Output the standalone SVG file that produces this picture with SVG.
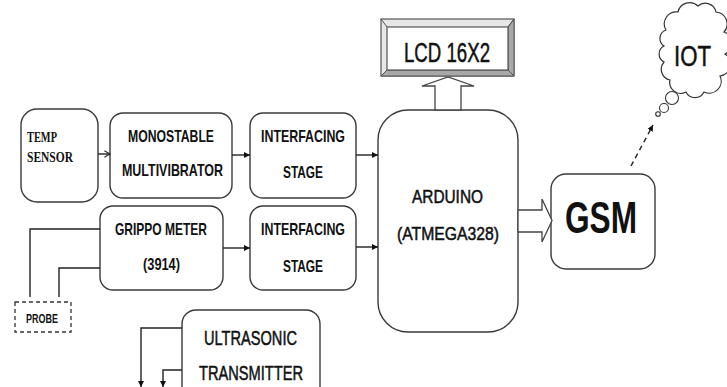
<svg xmlns="http://www.w3.org/2000/svg" width="727" height="387" viewBox="0 0 727 387">
<style>
.box{fill:#fff;stroke:#3a3a3a;stroke-width:1.4}
.t{font-family:"Liberation Sans",Arial,sans-serif;fill:#111}
.b{font-weight:bold}
.m{stroke:#111;stroke-width:0.5}
.ser{font-family:"Liberation Serif","Times New Roman",serif;font-weight:bold;fill:#111}
.ln{fill:none;stroke:#222;stroke-width:1.4}
.hol{fill:#fff;stroke:#444;stroke-width:1.3}
</style>
<defs>
<marker id="ah" viewBox="0 0 10 10" refX="10" refY="5" markerWidth="6" markerHeight="6" markerUnits="userSpaceOnUse" orient="auto"><path d="M0,0L10,5L0,10z" fill="#111"/></marker>
<marker id="oh" viewBox="0 0 10 10" refX="9" refY="5" markerWidth="8" markerHeight="8" markerUnits="userSpaceOnUse" orient="auto"><path d="M2,1L9,5L2,9" fill="none" stroke="#222" stroke-width="1.3"/></marker>
</defs>
<rect width="727" height="387" fill="#fff"/>
<g id="temp"><rect class="box" x="21" y="109" width="77" height="93" rx="16"/><text class="ser" font-size="14" x="27" y="142" textLength="30" lengthAdjust="spacingAndGlyphs">TEMP</text><text class="ser" font-size="14" x="27" y="162" textLength="46" lengthAdjust="spacingAndGlyphs">SENSOR</text></g>
<g id="mono"><rect class="box" x="110" y="113" width="122" height="85" rx="13"/><text class="t b" font-size="17" x="128" y="142" textLength="86" lengthAdjust="spacingAndGlyphs">MONOSTABLE</text><text class="t b" font-size="17" x="122" y="176" textLength="101" lengthAdjust="spacingAndGlyphs">MULTIVIBRATOR</text></g>
<g id="interf1"><rect class="box" x="250" y="113" width="106" height="85" rx="13"/><text class="t b" font-size="17" x="261" y="142" textLength="84" lengthAdjust="spacingAndGlyphs">INTERFACING</text><text class="t b" font-size="17" x="283" y="178" textLength="40" lengthAdjust="spacingAndGlyphs">STAGE</text></g>
<g id="grippo"><rect class="box" x="100" y="206" width="123" height="84" rx="13"/><text class="t b" font-size="17" x="115" y="235" textLength="92" lengthAdjust="spacingAndGlyphs">GRIPPO METER</text><text class="t b" font-size="17" x="143" y="270" textLength="37" lengthAdjust="spacingAndGlyphs">(3914)</text></g>
<g id="interf2"><rect class="box" x="250" y="206" width="106" height="84" rx="13"/><text class="t b" font-size="17" x="261" y="235" textLength="84" lengthAdjust="spacingAndGlyphs">INTERFACING</text><text class="t b" font-size="17" x="283" y="272" textLength="40" lengthAdjust="spacingAndGlyphs">STAGE</text></g>
<g id="probe"><rect x="15" y="302" width="56" height="30" fill="#fff" stroke="#333" stroke-width="1.3" stroke-dasharray="4,3"/><text class="t b" font-size="13" x="26" y="323" textLength="32" lengthAdjust="spacingAndGlyphs">PROBE</text></g>
<g id="ultra"><rect class="box" x="182" y="310" width="138" height="100" rx="14"/><text class="t m" font-size="20" x="204" y="345" textLength="93" lengthAdjust="spacingAndGlyphs">ULTRASONIC</text><text class="t m" font-size="20" x="199" y="380" textLength="104" lengthAdjust="spacingAndGlyphs">TRANSMITTER</text></g>
<g id="arduino"><rect class="box" x="378" y="110" width="140" height="222" rx="30"/><text class="t m" font-size="18" x="412" y="203" textLength="71" lengthAdjust="spacingAndGlyphs">ARDUINO</text><text class="t m" font-size="18" x="397" y="240" textLength="102" lengthAdjust="spacingAndGlyphs">(ATMEGA328)</text></g>
<g id="lcd"><rect x="381" y="19" width="133" height="57" fill="#e6e6e6" stroke="#555" stroke-width="1.2"/><path d="M381,76L387,70L508,70L508,27L514,19L514,76z" fill="#a8a8a8" stroke="#555" stroke-width="1"/><path d="M381,19L387,27M514,19L508,27M381,76L387,70M514,76L508,70" stroke="#555" stroke-width="1"/><rect x="387" y="27" width="121" height="43" fill="#fff" stroke="#555" stroke-width="1.2"/><text class="t m" font-size="27" x="404" y="62" textLength="86" lengthAdjust="spacingAndGlyphs" stroke-width="0.8">LCD 16X2</text></g>
<g id="gsm"><rect class="box" x="551" y="174" width="104" height="95" rx="15"/><text class="t b" font-size="45" x="565" y="233" textLength="72" lengthAdjust="spacingAndGlyphs">GSM</text></g>
<g id="iot"><path d="M666,30A12,12 0 0 1 678,12A12,12 0 0 1 698,6A11,11 0 0 1 716,12A12,12 0 0 1 724,32A12,12 0 0 1 725,54A12,12 0 0 1 720,76A12,12 0 0 1 704,92A10,10 0 0 1 686,92A11,11 0 0 1 670,80A11,11 0 0 1 664,62A9,9 0 0 1 664,46A9,9 0 0 1 666,30z" fill="#fff" stroke="#333" stroke-width="1.2"/><circle cx="672" cy="98" r="6.5" fill="#fff" stroke="#333" stroke-width="1.1"/><circle cx="664" cy="108" r="4.5" fill="#fff" stroke="#333" stroke-width="1.1"/><circle cx="658" cy="114" r="2.3" fill="#fff" stroke="#333" stroke-width="1.1"/><text class="t m" font-size="30" x="674" y="66" textLength="37" lengthAdjust="spacingAndGlyphs" stroke-width="0.9">IOT</text></g>
<g id="connectors">
<line class="ln" x1="98" y1="154" x2="110" y2="154" marker-end="url(#oh)"/>
<line class="ln" x1="232" y1="155" x2="250" y2="155" marker-end="url(#ah)"/>
<line class="ln" x1="356" y1="155" x2="378" y2="155" marker-end="url(#ah)"/>
<line class="ln" x1="223" y1="248" x2="250" y2="248" marker-end="url(#ah)"/>
<line class="ln" x1="356" y1="247" x2="378" y2="247" marker-end="url(#ah)"/>
<polyline class="ln" points="100,229 30,229 30,297"/>
<polyline class="ln" points="100,268 59,268 59,297"/>
<polyline class="ln" points="182,328 141,328 141,387" marker-end="url(#ah)"/>
<polyline class="ln" points="182,370 163,370 163,387" marker-end="url(#ah)"/>
<polygon class="hol" points="435,110 435,86 422,86 448,77 474,86 461,86 461,110"/>
<polygon class="hol" points="518,210 542,210 542,199 552,220.5 542,242 542,232 518,232"/>
<line x1="631" y1="166" x2="653" y2="125" stroke="#222" stroke-width="1.4" stroke-dasharray="5,4" marker-end="url(#ah)"/>
</g>
</svg>
